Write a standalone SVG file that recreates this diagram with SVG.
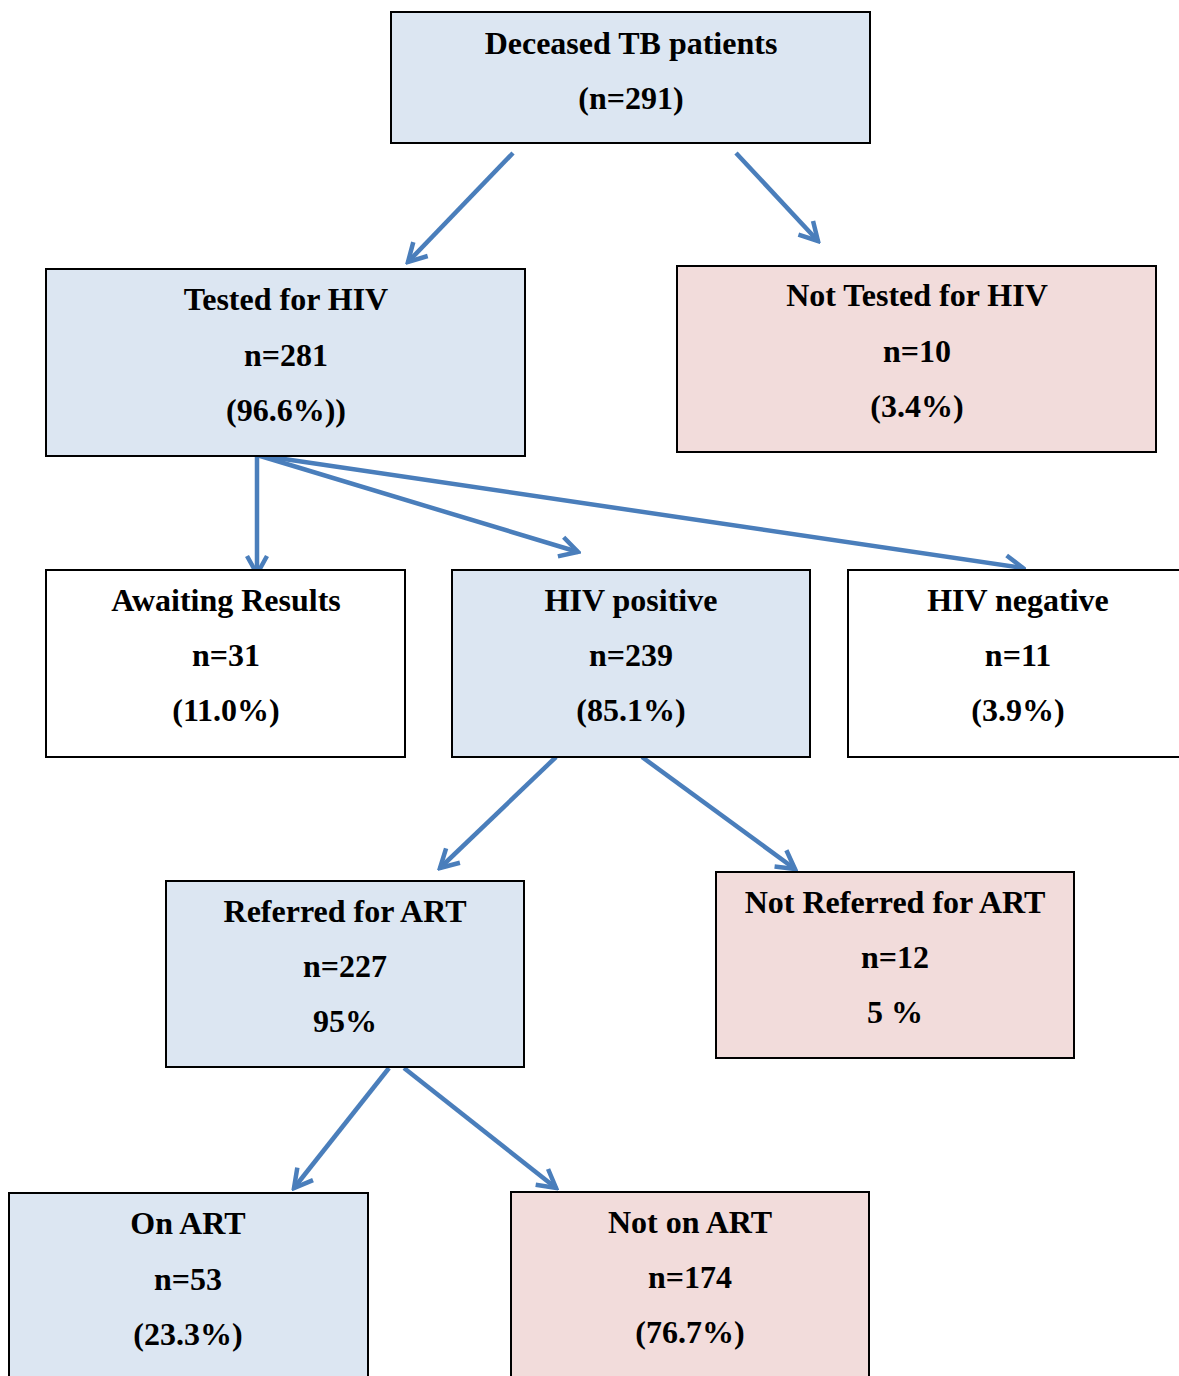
<svg xmlns="http://www.w3.org/2000/svg" width="1179" height="1376" viewBox="0 0 1179 1376">
<style>
.b{fill:#DCE6F2;stroke:#000;stroke-width:2}
.p{fill:#F2DCDB;stroke:#000;stroke-width:2}
.w{fill:#FFFFFF;stroke:#000;stroke-width:2}
text{font-family:"Liberation Serif","Times New Roman",serif;font-weight:bold;font-size:32px;fill:#000;text-anchor:middle}
.c{stroke:#4A7EBB;stroke-width:4.5;fill:none}
</style>
<defs>
<marker id="ah" viewBox="0 0 26 26" refX="23" refY="13" markerWidth="26" markerHeight="26" markerUnits="userSpaceOnUse" orient="auto">
<path d="M5,3 L23,13 L5,23" fill="none" stroke="#4A7EBB" stroke-width="4.5" stroke-linejoin="miter"/>
</marker>
</defs>
<rect width="1179" height="1376" fill="#FFFFFF"/>
<g id="connectors">
<line class="c" x1="513" y1="153" x2="408" y2="262" marker-end="url(#ah)"/>
<line class="c" x1="736" y1="153" x2="818" y2="241" marker-end="url(#ah)"/>
<line class="c" x1="257" y1="455" x2="257" y2="574" marker-end="url(#ah)"/>
<line class="c" x1="257" y1="455" x2="578" y2="552" marker-end="url(#ah)"/>
<line class="c" x1="257" y1="455" x2="1023" y2="568" marker-end="url(#ah)"/>
<line class="c" x1="556" y1="757" x2="440" y2="868" marker-end="url(#ah)"/>
<line class="c" x1="642" y1="757" x2="795" y2="869" marker-end="url(#ah)"/>
<line class="c" x1="389" y1="1068" x2="294" y2="1188" marker-end="url(#ah)"/>
<line class="c" x1="404" y1="1068" x2="556" y2="1188" marker-end="url(#ah)"/>
</g>
<g id="deceased">
<rect class="b" x="391" y="12" width="479" height="131"/>
<text x="631" y="54">Deceased TB patients</text>
<text x="631" y="109">(n=291)</text>
</g>
<g id="tested">
<rect class="b" x="46" y="269" width="479" height="187"/>
<text x="286" y="310">Tested for HIV</text>
<text x="286" y="366">n=281</text>
<text x="286" y="421">(96.6%))</text>
</g>
<g id="not-tested">
<rect class="p" x="677" y="266" width="479" height="186"/>
<text x="917" y="306">Not Tested for HIV</text>
<text x="917" y="362">n=10</text>
<text x="917" y="417">(3.4%)</text>
</g>
<g id="awaiting">
<rect class="w" x="46" y="570" width="359" height="187"/>
<text x="226" y="611">Awaiting Results</text>
<text x="226" y="666">n=31</text>
<text x="226" y="721">(11.0%)</text>
</g>
<g id="hiv-positive">
<rect class="b" x="452" y="570" width="358" height="187"/>
<text x="631" y="611">HIV positive</text>
<text x="631" y="666">n=239</text>
<text x="631" y="721">(85.1%)</text>
</g>
<g id="hiv-negative">
<rect class="w" x="848" y="570" width="350" height="187"/>
<text x="1018" y="611">HIV negative</text>
<text x="1018" y="666">n=11</text>
<text x="1018" y="721">(3.9%)</text>
</g>
<g id="referred">
<rect class="b" x="166" y="881" width="358" height="186"/>
<text x="345" y="922">Referred for ART</text>
<text x="345" y="977">n=227</text>
<text x="345" y="1032">95%</text>
</g>
<g id="not-referred">
<rect class="p" x="716" y="872" width="358" height="186"/>
<text x="895" y="913">Not Referred for ART</text>
<text x="895" y="968">n=12</text>
<text x="895" y="1023">5 %</text>
</g>
<g id="on-art">
<rect class="b" x="9" y="1193" width="359" height="200"/>
<text x="188" y="1234">On ART</text>
<text x="188" y="1290">n=53</text>
<text x="188" y="1345">(23.3%)</text>
</g>
<g id="not-on-art">
<rect class="p" x="511" y="1192" width="358" height="200"/>
<text x="690" y="1233">Not on ART</text>
<text x="690" y="1288">n=174</text>
<text x="690" y="1343">(76.7%)</text>
</g>
</svg>
